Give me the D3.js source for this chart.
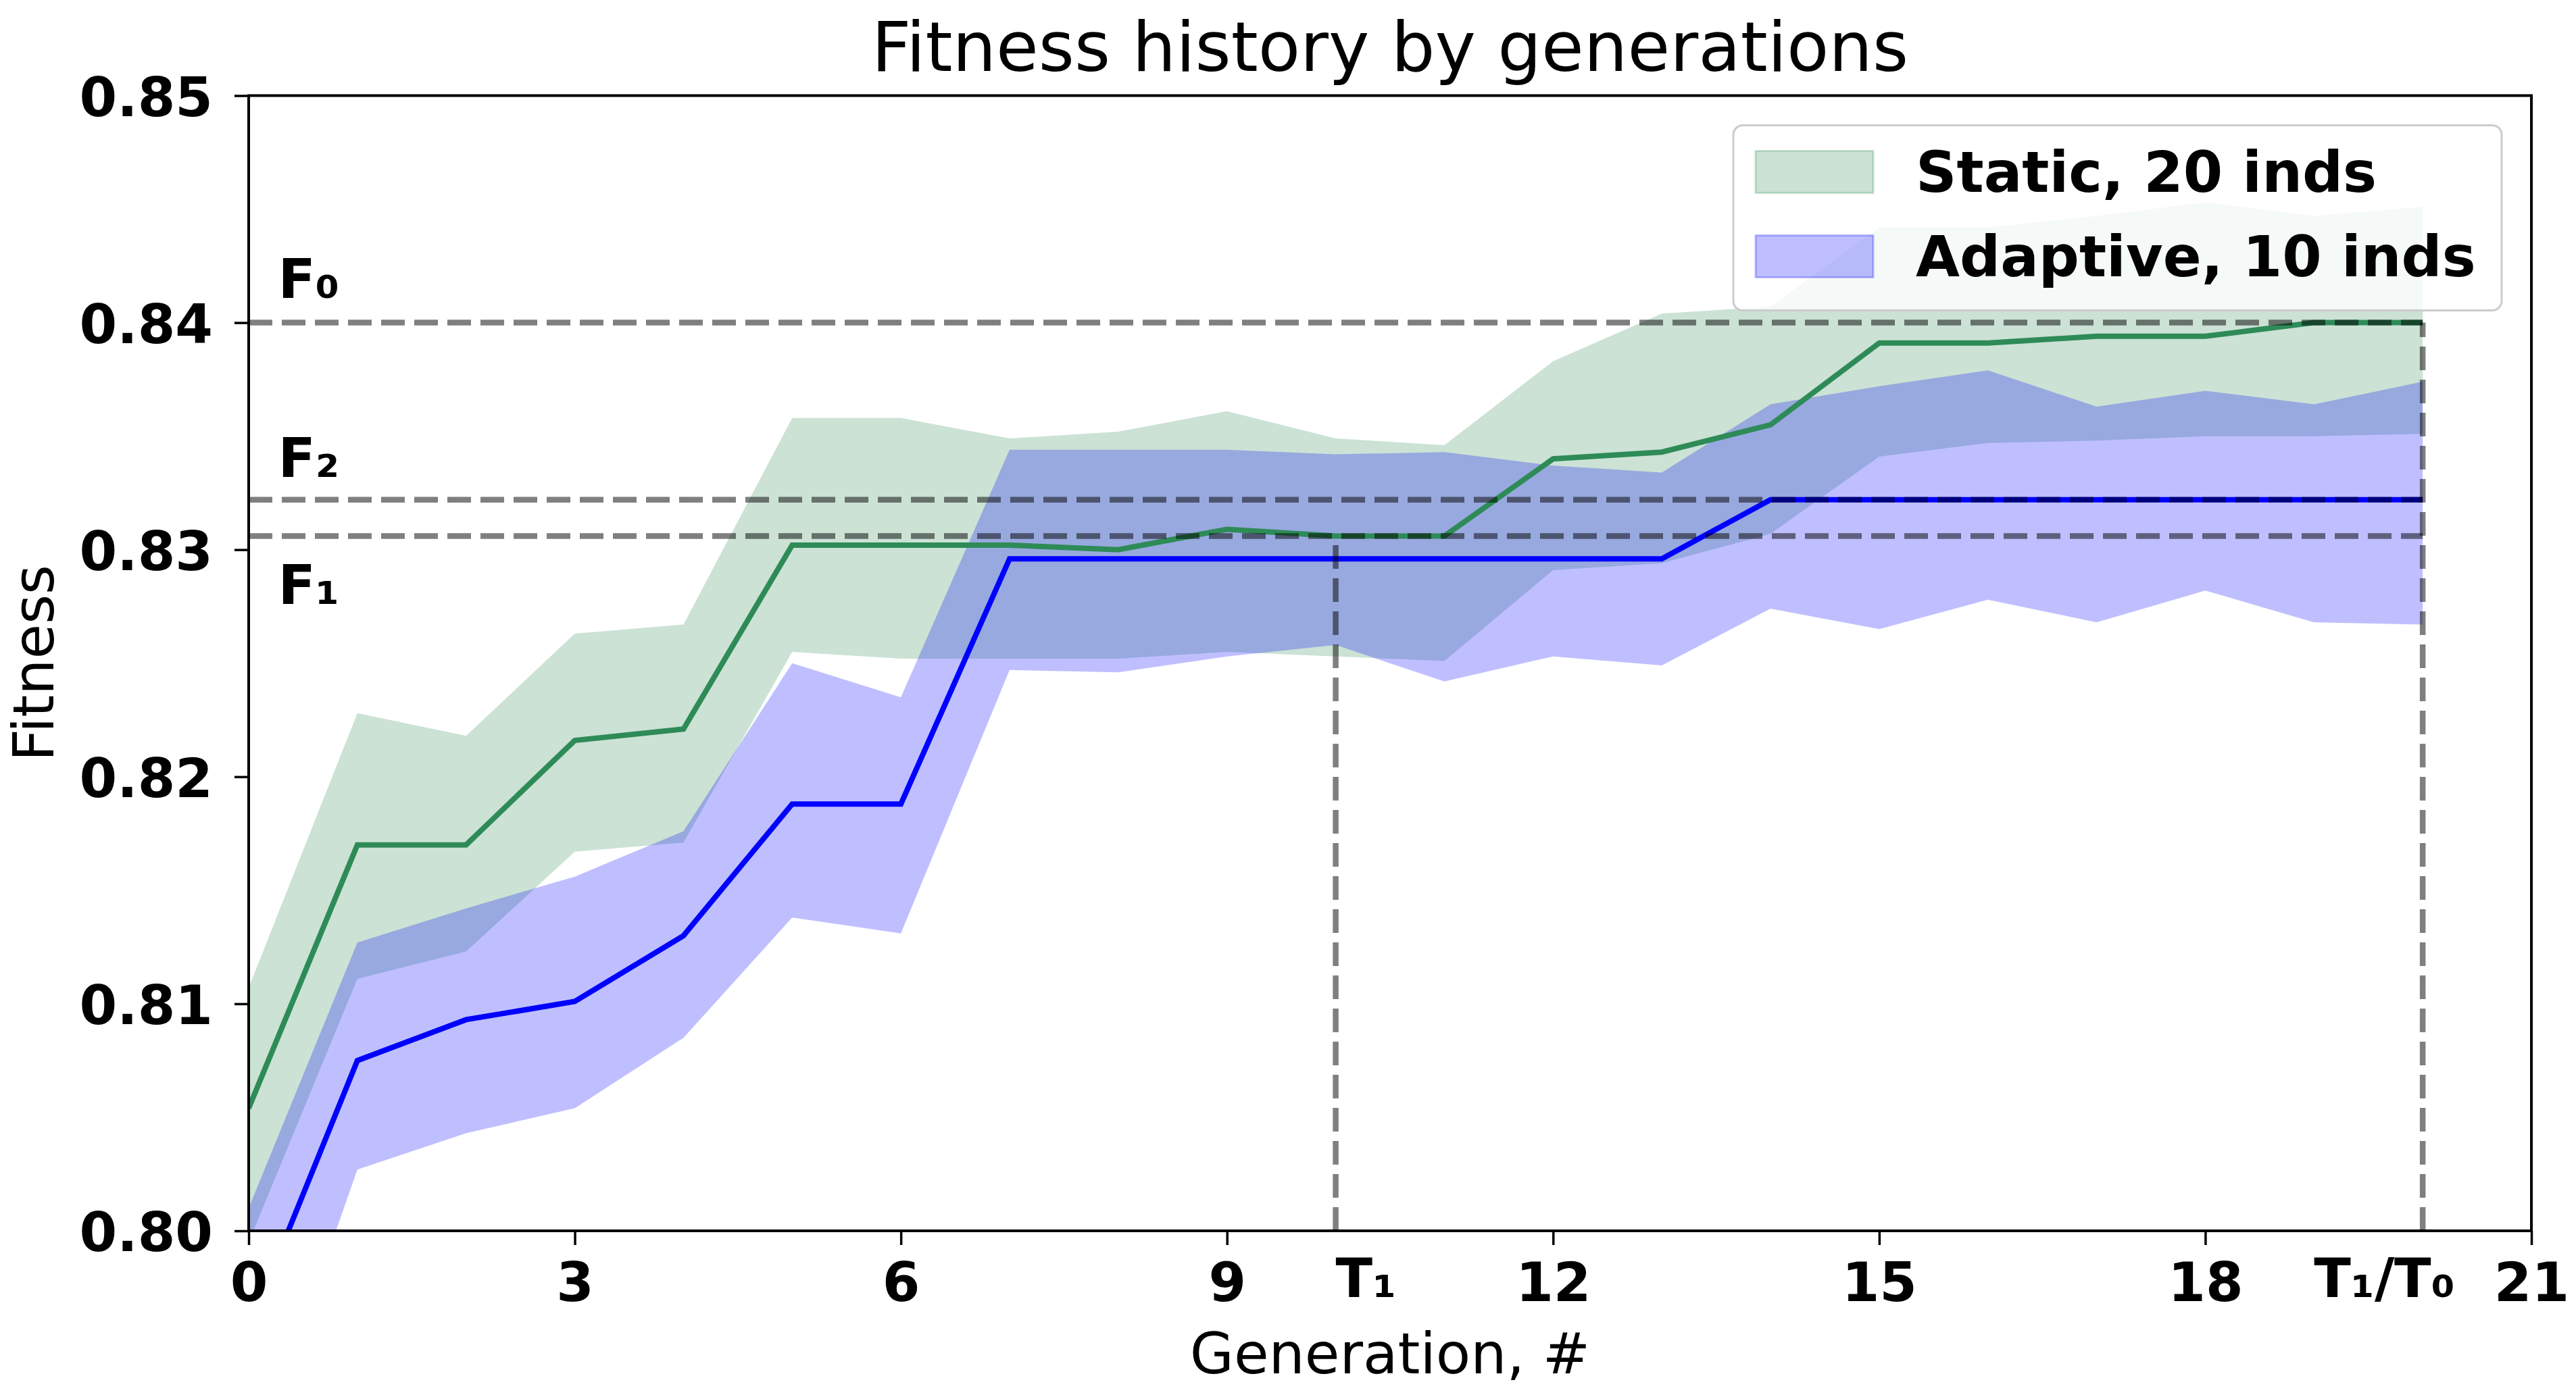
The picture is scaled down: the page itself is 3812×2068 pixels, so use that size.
<!DOCTYPE html>
<html>
<head>
<meta charset="utf-8">
<title>Fitness history by generations</title>
<script src="https://cdnjs.cloudflare.com/ajax/libs/d3/7.8.5/d3.min.js"></script>
<style>
  body { margin: 0; background: #fff; }
  svg { display: block; font-family: "DejaVu Sans", sans-serif; }
</style>
</head>
<body>
<div id="chart"></div>
<script>
// values
var generations = [0, 1, 2, 3, 4, 5, 6, 7, 8, 9, 10, 11, 12, 13, 14, 15, 16, 17, 18, 19, 20];

var staticMean  = [0.8054, 0.8170, 0.8170, 0.8216, 0.8221, 0.8302, 0.8302, 0.8302, 0.8300, 0.8309, 0.8306,
                   0.8306, 0.8340, 0.8343, 0.8355, 0.8391, 0.8391, 0.8394, 0.8394, 0.8400, 0.8400];
var staticUpper = [0.8107, 0.8228, 0.8218, 0.8263, 0.8267, 0.8358, 0.8358, 0.8349, 0.8352, 0.8361, 0.8349,
                   0.8346, 0.8383, 0.8404, 0.8407, 0.8442, 0.8442, 0.8447, 0.8453, 0.8447, 0.8451];
var staticLower = [0.7995, 0.8111, 0.8123, 0.8167, 0.8171, 0.8255, 0.8252, 0.8252, 0.8252, 0.8255, 0.8253,
                   0.8251, 0.8291, 0.8294, 0.8307, 0.8341, 0.8347, 0.8348, 0.8350, 0.8350, 0.8351];

var adaptiveMean  = [0.7957, 0.8075, 0.8093, 0.8101, 0.8130, 0.8188, 0.8188, 0.8296, 0.8296, 0.8296, 0.8296,
                     0.8296, 0.8296, 0.8296, 0.8322, 0.8322, 0.8322, 0.8322, 0.8322, 0.8322, 0.8322];
var adaptiveUpper = [0.8010, 0.8127, 0.8142, 0.8156, 0.8176, 0.8250, 0.8235, 0.8344, 0.8344, 0.8344, 0.8342,
                     0.8343, 0.8337, 0.8334, 0.8364, 0.8372, 0.8379, 0.8363, 0.8370, 0.8364, 0.8374];
var adaptiveLower = [0.7890, 0.8027, 0.8043, 0.8054, 0.8085, 0.8138, 0.8131, 0.8247, 0.8246, 0.8253, 0.8258,
                     0.8242, 0.8253, 0.8249, 0.8274, 0.8265, 0.8278, 0.8268, 0.8282, 0.8268, 0.8267];

var xTicks = [0, 3, 6, 9, 12, 15, 18, 21];
var yTicks = [0.80, 0.81, 0.82, 0.83, 0.84, 0.85];

var seriesNames  = ["Static, 20 inds", "Adaptive, 10 inds"];
var seriesColors = ["#2e8b57", "#0000ff"];

// reference levels: F0 = static final, F2 = adaptive final, F1 = static at T1
var T1 = 10, T0 = 20;
var F0 = staticMean[T0], F2 = adaptiveMean[T0], F1 = staticMean[T1];
var hLevels = [F0, F2, F1];
var vMarks = [{gen: T1, top: F1}, {gen: T0, top: F0}];
var fLabels = [{text: "F\u2080", gen: 0.27, value: 0.8411},
               {text: "F\u2082", gen: 0.27, value: 0.8332},
               {text: "F\u2081", gen: 0.27, value: 0.8276}];
var tLabels = [{text: "T\u2081", gen: 10}, {text: "T\u2081/T\u2080", gen: 19}];

var svgWidth = 3812, svgHeight = 2068,
    margin = {top: 141.5, right: 66, bottom: 246, left: 368},
    width = svgWidth - margin.left - margin.right,
    height = svgHeight - margin.top - margin.bottom;

var svg = d3.select("#chart").append("svg")
    .attr("width", svgWidth)
    .attr("height", svgHeight);

var g = svg.append("g")
    .attr("transform", "translate(" + margin.left + "," + margin.top + ")");

var x = d3.scaleLinear().domain([0, 21]).range([0, width]);
var y = d3.scaleLinear().domain([0.80, 0.85]).range([height, 0]);

g.append("clipPath").attr("id", "plot-clip")
  .append("rect").attr("width", width).attr("height", height);

var plot = g.append("g").attr("clip-path", "url(#plot-clip)");

function bandData(lower, upper) {
  return generations.map(function(d, i) { return {gen: d, lo: lower[i], hi: upper[i]}; });
}
function lineData(mean) {
  return generations.map(function(d, i) { return {gen: d, v: mean[i]}; });
}

var area = d3.area()
    .x(function(d) { return x(d.gen); })
    .y0(function(d) { return y(d.lo); })
    .y1(function(d) { return y(d.hi); });

var line = d3.line()
    .x(function(d) { return x(d.gen); })
    .y(function(d) { return y(d.v); });

var bands = [bandData(staticLower, staticUpper), bandData(adaptiveLower, adaptiveUpper)];
var means = [lineData(staticMean), lineData(adaptiveMean)];

plot.selectAll("path.band")
    .data(bands)
  .enter().append("path")
    .attr("class", "band")
    .attr("d", area)
    .attr("fill", function(d, i) { return seriesColors[i]; })
    .attr("fill-opacity", 0.25);

plot.selectAll("path.mean")
    .data(means)
  .enter().append("path")
    .attr("class", "mean")
    .attr("d", line)
    .attr("fill", "none")
    .attr("stroke", function(d, i) { return seriesColors[i]; })
    .attr("stroke-width", 8)
    .attr("stroke-linejoin", "miter");

// dashed guides
plot.selectAll("line.hguide")
    .data(hLevels)
  .enter().append("line")
    .attr("class", "hguide")
    .attr("x1", x(0)).attr("x2", x(T0))
    .attr("y1", function(d) { return y(d); })
    .attr("y2", function(d) { return y(d); });

plot.selectAll("line.vguide")
    .data(vMarks)
  .enter().append("line")
    .attr("class", "vguide")
    .attr("x1", function(d) { return x(d.gen); })
    .attr("x2", function(d) { return x(d.gen); })
    .attr("y1", y(0.80))
    .attr("y2", function(d) { return y(d.top); });

plot.selectAll("line.hguide, line.vguide")
    .attr("stroke", "#000")
    .attr("stroke-opacity", 0.5)
    .attr("stroke-width", 8.5)
    .attr("stroke-dasharray", "35,14");

g.selectAll("text.flabel")
    .data(fLabels)
  .enter().append("text")
    .attr("class", "flabel")
    .attr("x", function(d) { return x(d.gen); })
    .attr("y", function(d) { return y(d.value); })
    .attr("font-size", 81)
    .attr("font-weight", "bold")
    .text(function(d) { return d.text; });

// axes
var yAxis = d3.axisLeft(y).tickValues(yTicks).tickFormat(d3.format(".2f"))
    .tickSize(21).tickSizeOuter(0).tickPadding(32);
var xAxis = d3.axisBottom(x).tickValues(xTicks).tickFormat(d3.format("d"))
    .tickSize(21).tickSizeOuter(0).tickPadding(26);

var gy = g.append("g").call(yAxis);
var gx = g.append("g").attr("transform", "translate(0," + height + ")").call(xAxis);

[gx, gy].forEach(function(ax) {
  ax.select(".domain").remove();
  ax.selectAll(".tick line").attr("stroke", "#000").attr("stroke-width", 3.5);
  ax.selectAll(".tick text")
    .attr("font-family", "DejaVu Sans")
    .attr("font-size", 80)
    .attr("font-weight", "bold")
    .attr("fill", "#000");
});
gy.selectAll(".tick text").attr("dy", "0.37em");

g.selectAll("text.tlabel")
    .data(tLabels)
  .enter().append("text")
    .attr("class", "tlabel")
    .attr("x", function(d) { return x(d.gen); })
    .attr("y", height + 98)
    .attr("font-size", 80)
    .attr("font-weight", "bold")
    .text(function(d) { return d.text; });

// frame
g.append("rect")
    .attr("width", width)
    .attr("height", height)
    .attr("fill", "none")
    .attr("stroke", "#000")
    .attr("stroke-width", 4);

// legend
var legW = 1137, legH = 274;
var legend = g.append("g")
    .attr("transform", "translate(" + (width - 44 - legW) + "," + 44 + ")");

legend.append("rect")
    .attr("width", legW)
    .attr("height", legH)
    .attr("rx", 14)
    .attr("fill", "#fff")
    .attr("fill-opacity", 0.8)
    .attr("stroke", "#cccccc")
    .attr("stroke-width", 3);

var rows = legend.selectAll("g.row")
    .data(seriesNames)
  .enter().append("g")
    .attr("class", "row")
    .attr("transform", function(d, i) { return "translate(0," + (69 + i * 125) + ")"; });

rows.append("rect")
    .attr("x", 33)
    .attr("y", -31)
    .attr("width", 174)
    .attr("height", 62)
    .attr("fill", function(d, i) { return seriesColors[i]; })
    .attr("fill-opacity", 0.25)
    .attr("stroke", function(d, i) { return seriesColors[i]; })
    .attr("stroke-opacity", 0.25)
    .attr("stroke-width", 3);

rows.append("text")
    .attr("x", 270)
    .attr("y", 29)
    .attr("font-size", 84)
    .attr("font-weight", "bold")
    .text(function(d) { return d; });

// titles
svg.append("text")
    .attr("x", margin.left + width / 2)
    .attr("y", 105)
    .attr("text-anchor", "middle")
    .attr("font-size", 102)
    .text("Fitness history by generations");

svg.append("text")
    .attr("x", margin.left + width / 2)
    .attr("y", 2033)
    .attr("text-anchor", "middle")
    .attr("font-size", 84)
    .text("Generation, #");

svg.append("text")
    .attr("transform", "translate(79," + (margin.top + height / 2) + ") rotate(-90)")
    .attr("text-anchor", "middle")
    .attr("font-size", 84)
    .text("Fitness");
</script>
</body>
</html>
